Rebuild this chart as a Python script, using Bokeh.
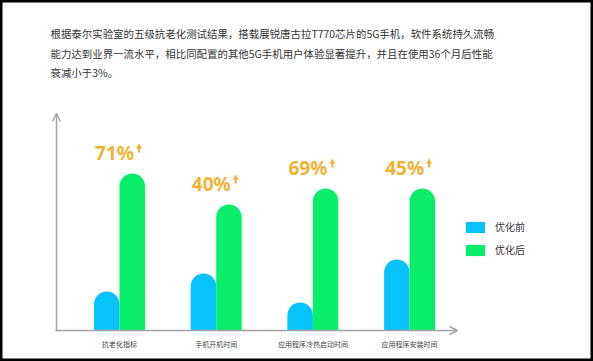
import numpy as np
from bokeh.plotting import figure
from bokeh.models import Range1d, Arrow, OpenHead, Label, Legend, LegendItem, ColumnDataSource
from bokeh.core.properties import value
from bokeh.embed import file_html
from bokeh.resources import INLINE

# ---- data ----
categories = ["抗老化指标", "手机开机时间", "应用程序冷热启动时间", "应用程序安装时间"]
before = [39, 57, 28, 71]      # 优化前 (relative bar heights)
after = [157, 126, 142, 142]   # 优化后
gain = [71, 40, 69, 45]        # improvement, %
series_names = ["优化前", "优化后"]
intro_lines = [
    "根据泰尔实验室的五级抗老化测试结果，搭载展锐唐古拉T770芯片的5G手机，软件系统持久流畅",
    "能力达到业界一流水平，相比同配置的其他5G手机用户体验显著提升，并且在使用36个月后性能",
    "衰减小于3%。",
]

# ---- layout constants ----
W, H = 593, 361
GROUP_PX = 96.7      # px per category
X0_PX = 119          # px of first category centre
BASE_PX = 330        # px (from top) of baseline
BAR_W = 25.5 / GROUP_PX
ARROW_DX = 19.5 / GROUP_PX

def dx(px):
    return (px - X0_PX) / GROUP_PX

def dy(py):
    return BASE_PX - py

BLUE = "#08C2FB"
GREEN = "#08EE68"
GOLD = "#F1B234"
AXIS = "#A3A3A3"
CJK = "Noto Sans CJK SC"

p = figure(width=W, height=H, output_backend="svg", toolbar_location=None,
           x_range=Range1d(dx(0), dx(W)), y_range=Range1d(dy(H), dy(0)),
           x_axis_type=None, y_axis_type=None,
           min_border_left=0, min_border_right=0, min_border_top=0, min_border_bottom=0)
p.outline_line_color = "black"
p.outline_line_width = 4
p.background_fill_color = "white"

idx = np.arange(len(categories))
after_arr = np.array(after, dtype=float)
src = ColumnDataSource(dict(
    xb=idx - BAR_W / 2, xa=idx + BAR_W / 2, x=idx, xarr=idx + ARROW_DX,
    before=before, after=after, cat=categories,
    gain=[f"{g}%" for g in gain],
    stem0=after_arr + 21, stem1=after_arr + 25, head=after_arr + 26.5,
))

r_before = p.vbar(x="xb", width=BAR_W, bottom=0, top="before", source=src,
                  fill_color=BLUE, line_color=None, border_radius=(13, 13, 0, 0))
r_after = p.vbar(x="xa", width=BAR_W, bottom=0, top="after", source=src,
                 fill_color=GREEN, line_color=None, border_radius=(13, 13, 0, 0))

# value labels
p.text(x="x", y="after", text="gain", source=src, x_offset=-5, y_offset=-21,
       text_align="center", text_baseline="alphabetic", text_color=GOLD,
       text_font=value("Noto Sans"), text_font_size="19px", text_font_style="bold")
# small up-arrows beside the value labels
p.segment(x0="xarr", y0="stem0", x1="xarr", y1="stem1", source=src,
          line_color=GOLD, line_width=2)
p.scatter(x="xarr", y="head", source=src, marker="triangle", size=6,
          fill_color=GOLD, line_color=None)

# category labels
p.text(x="x", y=0, text="cat", source=src, y_offset=13,
       text_align="center", text_baseline="middle", text_color="#444444",
       text_font=value(CJK), text_font_size="7px")

# axes with arrows
p.add_layout(Arrow(end=OpenHead(size=8, line_color=AXIS, line_width=1.5),
                   x_start=dx(56), y_start=dy(331), x_end=dx(56), y_end=dy(113),
                   line_color=AXIS, line_width=1.5))
p.add_layout(Arrow(end=OpenHead(size=8, line_color=AXIS, line_width=1.5),
                   x_start=dx(55), y_start=dy(330), x_end=dx(457), y_end=dy(330),
                   line_color=AXIS, line_width=1.5))

# intro text
for i, line in enumerate(intro_lines):
    p.add_layout(Label(x=dx(50), y=dy(33 + 19.5 * i), text=line,
                       text_align="left", text_baseline="middle",
                       text_font=CJK, text_font_size="10.45px", text_color="#333333"))

legend = Legend(items=[LegendItem(label=series_names[0], renderers=[r_before]),
                       LegendItem(label=series_names[1], renderers=[r_after])],
                location=(463, H - 257), orientation="vertical",
                glyph_width=24, glyph_height=14, label_height=14, spacing=8,
                padding=0, margin=0, label_standoff=8,
                border_line_color=None, background_fill_alpha=0,
                label_text_font=CJK, label_text_font_size="10px",
                label_text_color="#333333", label_text_baseline="middle")
p.add_layout(legend)

open("out.html", "w").write(file_html(p, INLINE))
